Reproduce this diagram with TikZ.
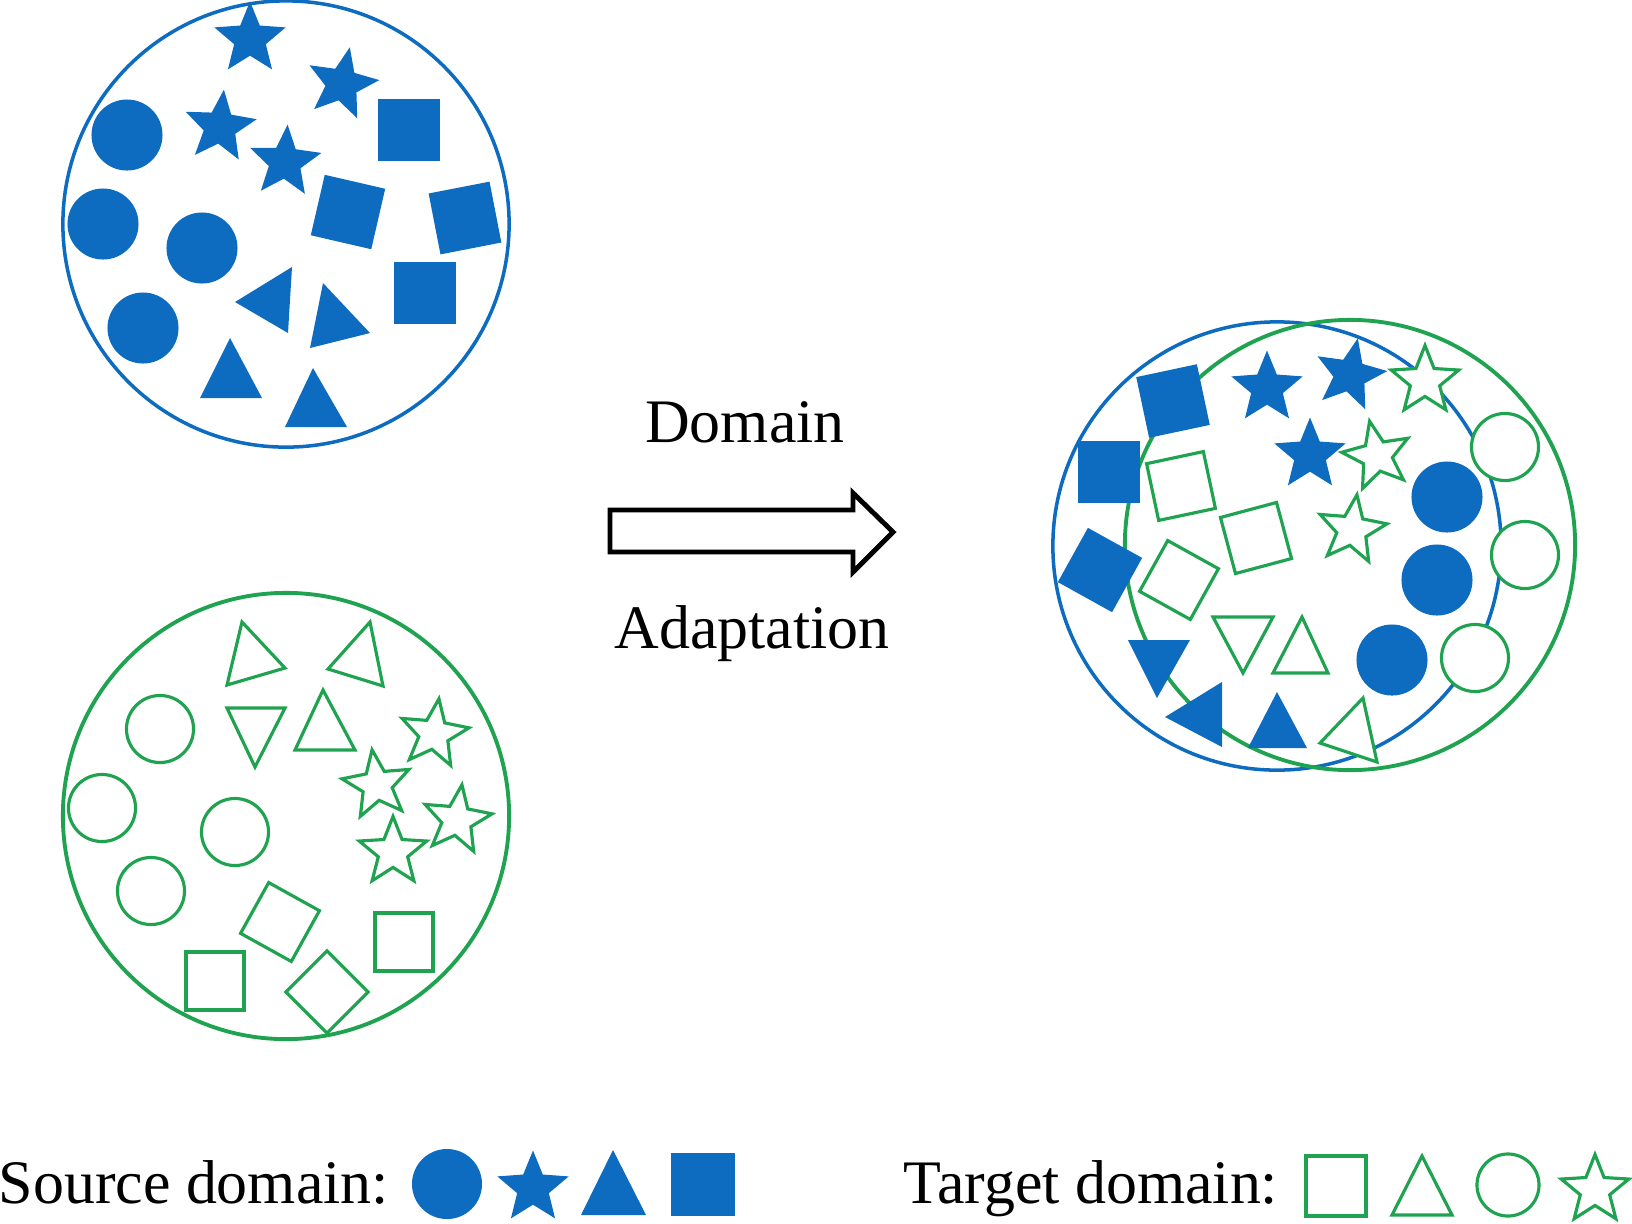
\documentclass[tikz,border=0pt]{standalone}
\usepackage{fontspec}
\setmainfont{Liberation Serif}
\usetikzlibrary{shapes.geometric}
\definecolor{srcblue}{RGB}{14,108,192}
\definecolor{tgtgreen}{RGB}{32,163,80}
\begin{document}
\begin{tikzpicture}[
    x=0.01cm, y=-0.01cm,
    srcset/.style={%
      draw=srcblue, line width=1pt, circle, inner sep=0pt,
    },
    tgtset/.style={%
      draw=tgtgreen, line width=1.1pt, circle, inner sep=0pt,
    },
    src/.style={fill=srcblue, draw=none, inner sep=0pt},
    tgt/.style={draw=tgtgreen, line width=0.9pt, fill=white, inner sep=0pt},
    srcsquare/.style={src, rectangle, minimum size=0.62cm},
    srcdisc/.style={src, circle, minimum size=0.71cm},
    srcstar/.style={src, star, star points=5, star point ratio=2.25, minimum size=0.75cm},
    tgtsquare/.style={tgt, rectangle, minimum size=0.58cm},
    tgtring/.style={tgt, circle, minimum size=0.67cm},
    tgtstar/.style={tgt, star, star points=5, star point ratio=2.3, minimum size=0.71cm},
    srctri/.style={fill=srcblue},
    tgttri/.style={draw=tgtgreen, line width=0.9pt, fill=white},
    txt/.style={font=\fontsize{17.6}{21}\selectfont, inner sep=0pt},
    arrowbox/.style={draw=black, line width=1.4pt, fill=white},
  ]
    \useasboundingbox (0,0) rectangle (1632,1223);

    \node [srcset, minimum size=4.46cm] (srcdomain) at (286,224) {};
    \node [srcdisc] (sd1) at (127,135) {};
    \node [srcdisc] (sd2) at (103,224) {};
    \node [srcdisc] (sd3) at (202,248) {};
    \node [srcdisc] (sd4) at (143,328) {};
    \node [srcstar] (ss1) at (250,39) {};
    \node [srcstar, rotate=-12] (ss2) at (342,84) {};
    \node [srcstar, rotate=-6] (ss3) at (220,127) {};
    \node [srcstar, rotate=-4] (ss4) at (285,162) {};
    \node [srcsquare] (sq1) at (409,130) {};
    \node [srcsquare, rotate=-13] (sq2) at (348,212) {};
    \node [srcsquare, rotate=11] (sq3) at (465,218) {};
    \node [srcsquare] (sq4) at (425,293) {};
    \fill [srctri] (235,302) -- (292,267) -- (288,333) -- cycle;
    \fill [srctri] (323,283) -- (370,333) -- (310,348) -- cycle;
    \fill [srctri] (230,338) -- (262,398) -- (200,398) -- cycle;
    \fill [srctri] (313,368) -- (347,427) -- (285,427) -- cycle;

    \node [tgtset, minimum size=4.46cm] (tgtdomain) at (286,816) {};
    \draw [tgttri] (242,622) -- (285,668) -- (227,685) -- cycle;
    \draw [tgttri] (370,622) -- (383,686) -- (328,669) -- cycle;
    \draw [tgttri] (227,708) -- (285,708) -- (255,767) -- cycle;
    \draw [tgttri] (323,690) -- (355,750) -- (295,750) -- cycle;
    \node [tgtring] (td1) at (160,729) {};
    \node [tgtring] (td2) at (102,808) {};
    \node [tgtring] (td3) at (235,832) {};
    \node [tgtring] (td4) at (151,891) {};
    \node [tgtstar, rotate=-8] (ts1) at (434,734) {};
    \node [tgtstar, rotate=8] (ts2) at (377,785) {};
    \node [tgtstar, rotate=-8] (ts3) at (457,820) {};
    \node [tgtstar] (ts4) at (393,852) {};
    \node [tgtsquare, rotate=-29] (tq1) at (280,922) {};
    \node [tgtsquare] (tq2) at (215,981) {};
    \node [tgtsquare, rotate=45] (tq3) at (327,992) {};
    \node [tgtsquare] (tq4) at (404,942) {};

    \node [txt, anchor=base] (domain) at (745,442) {Domain};
    \draw [arrowbox] (610,510) -- (853,510) -- (853,493) -- (893,532)
      -- (853,572) -- (853,552) -- (610,552) -- cycle;
    \node [txt, anchor=base] (adapt) at (752,648) {Adaptation};

    \node [srcset, minimum size=4.48cm] (mixsrc) at (1277,546) {};
    \node [tgtset, minimum size=4.50cm] (mixtgt) at (1350,545) {};
    \node [srcsquare, rotate=12] (mq1) at (1173,401) {};
    \node [srcsquare] (mq2) at (1109,472) {};
    \node [srcsquare, rotate=-29] (mq3) at (1100,570) {};
    \node [tgtsquare, rotate=12] (mq4) at (1181,486) {};
    \node [tgtsquare, rotate=15] (mq5) at (1256,538) {};
    \node [tgtsquare, rotate=-29] (mq6) at (1179,580) {};
    \node [srcstar] (ms1) at (1267,388) {};
    \node [srcstar, rotate=-12] (ms2) at (1350,375) {};
    \node [srcstar] (ms3) at (1310,455) {};
    \node [tgtstar] (ms4) at (1425,381) {};
    \node [tgtstar, rotate=12] (ms5) at (1377,456) {};
    \node [tgtstar, rotate=-8] (ms6) at (1352,530) {};
    \node [tgtring] (md1) at (1505,447) {};
    \node [srcdisc] (md2) at (1447,497) {};
    \node [tgtring] (md3) at (1525,555) {};
    \node [srcdisc] (md4) at (1437,580) {};
    \node [srcdisc] (md5) at (1392,660) {};
    \node [tgtring] (md6) at (1475,658) {};
    \fill [srctri] (1128,640) -- (1190,640) -- (1157,698) -- cycle;
    \fill [srctri] (1165,717) -- (1222,682) -- (1222,747) -- cycle;
    \fill [srctri] (1277,692) -- (1307,748) -- (1248,748) -- cycle;
    \draw [tgttri] (1213,617) -- (1273,617) -- (1243,673) -- cycle;
    \draw [tgttri] (1302,617) -- (1328,673) -- (1273,673) -- cycle;
    \draw [tgttri] (1363,698) -- (1377,762) -- (1320,743) -- cycle;

    \node [txt, anchor=base west] (srclabel) at (-2,1203) {Source domain:};
    \node [srcdisc, minimum size=0.70cm] (keysd) at (447,1184) {};
    \node [srcstar] (keyss) at (533,1188) {};
    \fill [srctri] (613,1150) -- (646,1215) -- (581,1215) -- cycle;
    \node [srcsquare, minimum size=0.63cm] (keysq) at (703,1184) {};
    \node [txt, anchor=base west] (tgtlabel) at (903,1203) {Target domain:};
    \node [tgtsquare, minimum size=0.60cm] (keytq) at (1336,1186) {};
    \draw [tgttri] (1422,1156) -- (1452,1215) -- (1392,1215) -- cycle;
    \node [tgtring, minimum size=0.62cm] (keytd) at (1508,1185) {};
    \node [tgtstar] (keyts) at (1595,1190) {};
\end{tikzpicture}
\end{document}
